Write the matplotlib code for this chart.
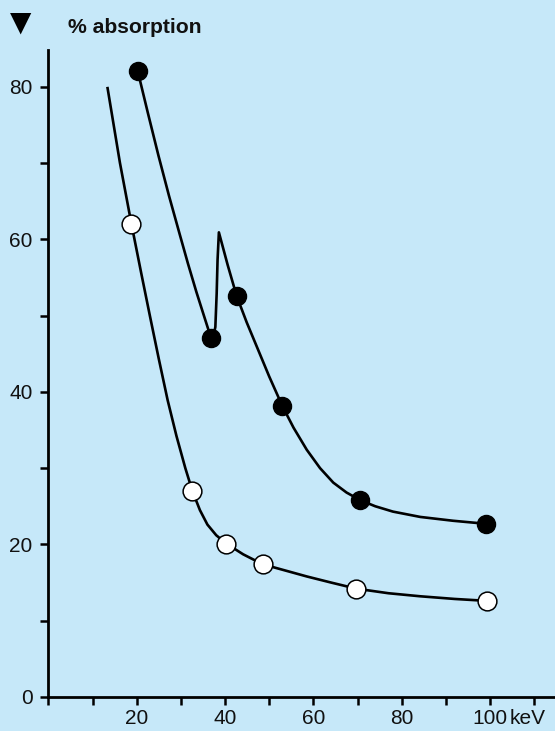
import matplotlib
matplotlib.use("Agg")
import matplotlib.pyplot as plt
from matplotlib.ticker import MultipleLocator

# ---- data ----
# filled (black) series: measured points
black_x = [20.2, 36.8, 42.6, 53.0, 70.6, 99.1]
black_y = [82.1, 47.1, 52.6, 38.1, 25.8, 22.7]
# traced curve of the black series (with absorption edge near 38 keV)
black_curve_x = [20.2, 22.5, 24.9, 27.3, 29.8, 31.6, 33.5, 35.2, 36.8, 37.2,
                 37.8, 38.1, 38.3, 38.6, 40.6, 42.6, 44.9, 47.2, 50.0, 53.0,
                 55.5, 58.5, 61.5, 64.5, 67.5, 70.6, 74.0, 78.0, 84.2, 91.6, 99.1]
black_curve_y = [82.1, 76.6, 71.0, 65.7, 60.5, 56.8, 53.1, 50.0, 47.1, 46.8,
                 48.5, 52.9, 57.3, 60.9, 56.6, 52.6, 49.1, 45.9, 42.0, 38.1,
                 35.3, 32.4, 30.0, 28.1, 26.8, 25.8, 25.0, 24.3, 23.6, 23.1, 22.7]

# open (white) series: measured points
white_x = [18.8, 32.6, 40.3, 48.5, 69.7, 99.3]
white_y = [62.0, 27.0, 20.1, 17.4, 14.2, 12.6]
# traced curve of the white series
white_curve_x = [13.4, 16.2, 18.8, 21.0, 23.0, 25.0, 27.0, 29.0, 31.0, 32.6,
                 34.3, 36.0, 38.0, 40.3, 44.1, 48.5, 53.5, 58.5, 64.0, 69.7,
                 77.0, 84.2, 92.0, 99.3]
white_curve_y = [79.8, 70.0, 62.0, 55.6, 49.9, 44.3, 38.9, 34.2, 30.0, 27.0,
                 24.5, 22.6, 21.2, 20.1, 18.7, 17.4, 16.6, 15.8, 15.0, 14.2,
                 13.6, 13.2, 12.85, 12.6]

x_major = [20, 40, 60, 80, 100]
x_labels = ["20", "40", "60", "80", "100"]
y_major = [0, 20, 40, 60, 80]
y_labels = ["0", "20", "40", "60", "80"]

BG = "#c6e8f9"
plt.rcParams["font.family"] = ["Liberation Sans", "DejaVu Sans"]

W, H = 555, 731
fig = plt.figure(figsize=(W / 100, H / 100), dpi=100, facecolor=BG)
left = 48.4 / W
bottom = (H - 697) / H
top = (H - 50) / H
ax = fig.add_axes([left, bottom, 1 - left, top - bottom])
ax.set_facecolor(BG)
ax.set_xlim(0, 114.7)
ax.set_ylim(0, 84.8)

for s in ["top", "right"]:
    ax.spines[s].set_visible(False)
for s in ["left", "bottom"]:
    ax.spines[s].set_linewidth(2.0)
    ax.spines[s].set_color("black")

ax.set_xticks(x_major)
ax.set_xticklabels(x_labels)
ax.set_yticks(y_major)
ax.set_yticklabels(y_labels)
ax.xaxis.set_minor_locator(MultipleLocator(10))
ax.yaxis.set_minor_locator(MultipleLocator(10))
ax.tick_params(which="both", direction="out", length=6, width=1.8, color="black")
ax.tick_params(axis="both", which="major", labelsize=15, labelcolor="#111111")
ax.tick_params(axis="x", pad=3.0)
ax.tick_params(axis="y", pad=5.5)

# curves
ax.plot(black_curve_x, black_curve_y, color="black", lw=1.9, solid_joinstyle="round",
        zorder=2)
ax.plot(white_curve_x, white_curve_y, color="black", lw=1.9, solid_joinstyle="round",
        zorder=2)
# markers
ax.plot(black_x, black_y, "o", color="black", markersize=13, zorder=3)
ax.plot(white_x, white_y, "o", markerfacecolor="white", markeredgecolor="black",
        markeredgewidth=1.1, markersize=13.5, zorder=3)

# unit label after the last tick
ax.annotate("keV", xy=(100, 0), xycoords="data", xytext=(14, -9.0),
            textcoords="offset points", ha="left", va="top", fontsize=15,
            color="#111111", annotation_clip=False)

# header
fig.text(10 / W, 1 - 31 / H, "\u25BC", fontsize=20, family="DejaVu Sans",
         ha="left", va="baseline", color="black")
fig.text(68 / W, 1 - 33 / H, "% absorption", fontsize=15.2, fontweight="bold",
         ha="left", va="baseline", color="#111111")

fig.savefig("out.png", dpi=100, facecolor=BG)
